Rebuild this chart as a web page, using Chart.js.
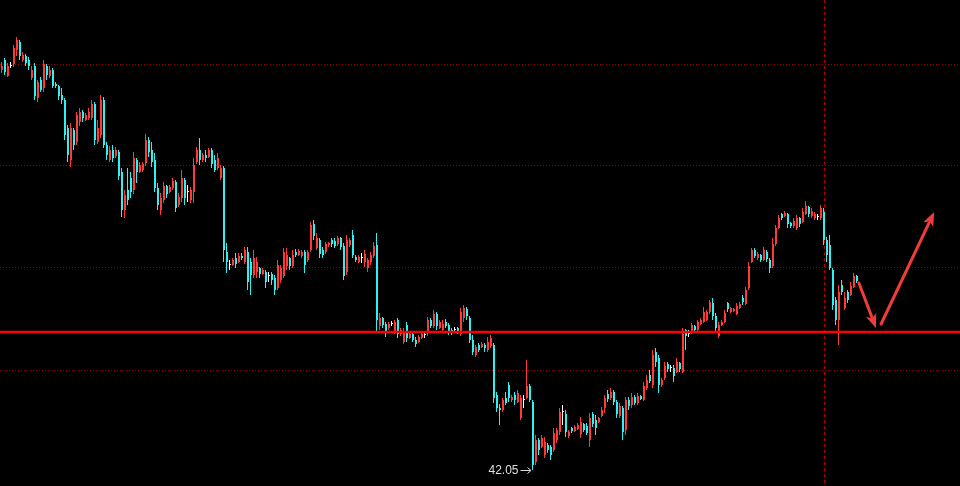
<!DOCTYPE html>
<html><head><meta charset="utf-8">
<script src="https://cdn.jsdelivr.net/npm/chart.js@4/dist/chart.umd.min.js"></script>
<style>html,body{margin:0;padding:0;background:#000;overflow:hidden}canvas{display:block}</style>
</head><body>
<canvas id="c" width="960" height="486"></canvas>
<script>
// ---- data (prices) ----
const open = [
46.05,46.15,45.99,46.09,46.11,46.25,46.33,46.15,46.19,46.15,
45.97,46.09,45.77,45.95,45.87,46.09,45.99,46.05,45.91,45.89,
45.80,45.75,45.47,45.15,45.45,45.33,45.53,45.63,45.55,45.57,
45.57,45.71,45.33,45.40,45.75,45.30,45.15,45.25,45.19,45.23,
45.03,44.65,44.85,44.97,44.85,45.15,45.03,45.05,45.12,45.35,
45.25,45.15,44.87,44.65,44.75,44.89,44.83,44.87,44.93,44.70,
44.77,44.95,44.83,44.75,44.83,45.13,45.25,45.15,45.20,45.18,
45.25,45.15,45.07,44.97,45.07,44.23,44.10,44.10,44.17,44.13,
44.19,44.13,44.23,44.13,44.00,44.03,44.07,44.01,44.03,43.99,
44.01,43.97,43.87,43.95,43.99,44.09,44.17,44.09,44.23,44.20,
44.19,44.23,44.15,44.25,44.51,44.27,44.35,44.25,44.23,44.30,
44.35,44.34,44.31,44.37,44.29,44.03,44.30,44.40,44.18,44.13,
44.17,44.13,44.07,44.13,44.19,44.30,43.49,43.57,43.51,43.47,
43.51,43.43,43.55,43.41,43.33,43.50,43.37,43.41,43.35,43.33,
43.37,43.40,43.43,43.55,43.49,43.61,43.47,43.45,43.53,43.50,
43.45,43.45,43.47,43.41,43.57,43.66,43.57,43.35,43.20,43.30,
43.28,43.30,43.25,43.29,43.30,42.80,42.67,42.65,42.77,42.90,
42.75,42.80,42.73,42.57,42.75,42.77,42.89,42.73,42.13,42.35,
42.28,42.20,42.30,42.28,42.25,42.35,42.43,42.63,42.61,42.39,
42.47,42.44,42.46,42.41,42.51,42.49,42.35,42.61,42.55,42.53,
42.59,42.67,42.81,42.77,42.83,42.73,42.59,42.67,42.45,42.75,
42.70,42.78,42.72,42.79,42.75,42.87,43.00,42.90,43.23,43.17,
42.90,42.97,43.11,43.07,43.07,43.03,43.12,43.03,43.45,43.41,
43.42,43.49,43.45,43.51,43.53,43.55,43.63,43.72,43.59,43.39,
43.50,43.53,43.72,43.63,43.64,43.61,43.67,43.77,43.71,43.87,
44.13,44.25,44.17,44.20,44.15,44.23,44.15,44.09,44.31,44.47,
44.61,44.59,44.61,44.52,44.49,44.47,44.57,44.53,44.61,44.68,
44.59,44.57,44.58,44.57,44.63,44.35,44.30,44.05,43.75,43.55,
43.90,43.67,43.83,43.80,43.88,43.99];
const high = [
46.13,46.17,46.12,46.13,46.30,46.38,46.35,46.23,46.21,46.18,
46.09,46.12,45.95,45.98,46.15,46.11,46.09,46.07,45.93,45.90,
45.87,45.77,45.50,45.52,45.47,45.63,45.67,45.65,45.62,45.67,
45.75,45.73,45.55,45.80,45.78,45.33,45.29,45.30,45.28,45.25,
45.07,44.85,45.07,45.03,45.23,45.17,45.13,45.13,45.41,45.38,
45.33,45.22,44.92,44.82,44.93,44.90,44.90,44.97,44.95,44.82,
45.05,44.97,44.90,44.88,45.17,45.28,45.37,45.22,45.25,45.27,
45.27,45.20,45.22,45.10,45.09,44.32,44.15,44.17,44.22,44.22,
44.22,44.28,44.28,44.17,44.25,44.18,44.08,44.07,44.05,44.03,
44.03,44.00,44.15,44.10,44.27,44.27,44.18,44.25,44.26,44.26,
44.25,44.25,44.25,44.53,44.55,44.42,44.37,44.28,44.33,44.33,
44.37,44.37,44.39,44.38,44.32,44.40,44.37,44.45,44.20,44.20,
44.22,44.25,44.17,44.23,44.33,44.42,43.62,43.58,43.53,43.53,
43.54,43.55,43.57,43.47,43.47,43.53,43.43,43.42,43.38,43.40,
43.42,43.42,43.58,43.57,43.65,43.63,43.55,43.55,43.56,43.52,
43.47,43.48,43.48,43.67,43.70,43.68,43.59,43.40,43.30,43.32,
43.33,43.32,43.38,43.40,43.32,42.83,42.71,42.77,42.83,42.93,
42.80,42.83,42.85,42.80,42.80,43.15,42.91,42.75,42.40,42.37,
42.40,42.38,42.32,42.30,42.47,42.47,42.67,42.70,42.65,42.45,
42.48,42.50,42.52,42.58,42.52,42.52,42.62,42.63,42.60,42.58,
42.68,42.80,42.85,42.87,42.85,42.75,42.72,42.69,42.78,42.78,
42.82,42.80,42.82,42.80,42.93,43.00,43.05,43.25,43.27,43.20,
42.97,43.13,43.13,43.10,43.10,43.17,43.13,43.47,43.46,43.45,
43.52,43.50,43.55,43.57,43.68,43.65,43.75,43.77,43.62,43.53,
43.55,43.65,43.73,43.68,43.67,43.72,43.73,43.80,43.88,44.13,
44.27,44.27,44.23,44.21,44.28,44.25,44.17,44.37,44.50,44.60,
44.62,44.64,44.62,44.53,44.57,44.60,44.58,44.67,44.74,44.69,
44.67,44.63,44.61,44.70,44.67,44.38,44.40,44.07,43.78,43.90,
43.95,43.83,43.85,43.93,44.02,44.00];
const low = [
46.02,46.00,45.98,46.07,46.08,46.19,46.15,46.13,46.09,46.05,
45.95,45.75,45.73,45.83,45.83,45.95,45.97,45.87,45.87,45.75,
45.71,45.35,45.13,45.08,45.25,45.30,45.49,45.53,45.54,45.55,
45.55,45.30,45.31,45.37,45.27,45.15,45.13,45.13,45.17,44.95,
44.58,44.57,44.70,44.77,44.81,44.92,45.02,45.03,45.09,45.18,
45.08,44.83,44.65,44.60,44.72,44.77,44.82,44.85,44.63,44.68,
44.73,44.70,44.73,44.72,44.72,45.11,45.10,45.13,45.13,45.17,
45.07,45.03,45.05,44.95,44.13,44.02,44.05,44.09,44.07,44.12,
44.15,44.11,43.85,43.80,43.97,43.97,43.97,44.00,43.87,43.93,
43.90,43.80,43.85,43.92,43.97,44.05,44.05,44.07,44.18,44.19,
44.17,44.02,44.13,44.23,44.35,44.25,44.17,44.17,44.21,44.28,
44.28,44.27,44.29,44.25,43.95,44.00,44.28,44.17,44.13,44.12,
44.12,44.08,44.03,44.10,44.17,43.42,43.45,43.47,43.38,43.45,
43.49,43.41,43.37,43.39,43.31,43.33,43.36,43.33,43.28,43.32,
43.36,43.37,43.39,43.47,43.47,43.45,43.46,43.44,43.47,43.40,
43.40,43.42,43.41,43.39,43.53,43.55,43.32,43.20,43.18,43.23,
43.27,43.23,43.23,43.27,42.72,42.63,42.50,42.63,42.70,42.73,
42.73,42.70,42.72,42.55,42.67,42.76,42.73,42.05,42.10,42.20,
42.27,42.17,42.22,42.15,42.23,42.32,42.40,42.50,42.38,42.37,
42.42,42.43,42.45,42.37,42.43,42.40,42.28,42.48,42.40,42.52,
42.58,42.62,42.73,42.75,42.70,42.57,42.57,42.35,42.40,42.65,
42.67,42.70,42.70,42.75,42.74,42.85,42.92,42.87,43.08,42.82,
42.88,42.95,43.03,43.03,42.93,43.02,43.03,43.02,43.25,43.38,
43.41,43.42,43.44,43.50,43.52,43.54,43.61,43.55,43.42,43.37,
43.49,43.52,43.63,43.62,43.63,43.60,43.66,43.70,43.70,43.85,
44.12,44.17,44.15,44.13,44.14,44.13,44.02,44.07,44.29,44.46,
44.55,44.58,44.47,44.47,44.47,44.45,44.48,44.52,44.60,44.58,
44.57,44.55,44.55,44.55,44.30,44.13,44.05,43.65,43.50,43.30,
43.80,43.65,43.72,43.79,43.87,43.92];
const close = [
46.09,46.03,46.09,46.09,46.27,46.35,46.19,46.20,46.12,46.09,
46.05,45.79,45.93,45.85,46.11,46.00,46.05,45.89,45.89,45.79,
45.75,45.40,45.20,45.47,45.30,45.60,45.63,45.57,45.60,45.63,
45.71,45.35,45.47,45.75,45.30,45.20,45.25,45.17,45.25,44.99,
44.65,44.80,44.75,44.83,45.17,45.03,45.10,45.11,45.35,45.23,
45.13,44.87,44.70,44.77,44.89,44.81,44.88,44.94,44.67,44.78,
44.97,44.77,44.83,44.85,45.10,45.25,45.15,45.20,45.17,45.25,
45.11,45.05,45.17,45.07,44.25,44.13,44.10,44.15,44.11,44.19,
44.17,44.25,43.93,44.00,44.17,44.13,44.01,44.05,43.93,43.99,
43.95,43.85,44.10,44.07,44.23,44.20,44.09,44.20,44.20,44.24,
44.23,44.10,44.23,44.50,44.39,44.37,44.21,44.20,44.31,44.32,
44.31,44.29,44.37,44.28,43.99,44.35,44.35,44.20,44.15,44.18,
44.17,44.21,44.15,44.20,44.29,43.55,43.57,43.50,43.43,43.51,
43.51,43.53,43.41,43.45,43.43,43.37,43.41,43.35,43.31,43.38,
43.41,43.40,43.55,43.49,43.61,43.49,43.53,43.51,43.49,43.43,
43.42,43.45,43.43,43.63,43.67,43.59,43.35,43.23,43.28,43.25,
43.31,43.27,43.33,43.37,42.77,42.67,42.65,42.75,42.72,42.77,
42.78,42.75,42.82,42.77,42.75,42.89,42.75,42.10,42.35,42.25,
42.37,42.33,42.25,42.20,42.42,42.45,42.63,42.63,42.43,42.43,
42.44,42.48,42.50,42.53,42.45,42.42,42.57,42.51,42.47,42.57,
42.65,42.77,42.76,42.83,42.73,42.61,42.69,42.43,42.75,42.69,
42.78,42.72,42.79,42.76,42.89,42.95,42.94,43.20,43.13,42.90,
42.95,43.09,43.06,43.07,42.99,43.13,43.06,43.41,43.39,43.41,
43.50,43.45,43.53,43.55,43.63,43.63,43.73,43.59,43.47,43.50,
43.53,43.62,43.66,43.67,43.66,43.69,43.71,43.73,43.85,44.09,
44.25,44.19,44.21,44.15,44.25,44.16,44.07,44.31,44.47,44.57,
44.57,44.62,44.51,44.49,44.54,44.57,44.51,44.63,44.69,44.61,
44.64,44.61,44.58,44.67,44.35,44.20,44.07,43.70,43.55,43.83,
43.83,43.77,43.75,43.89,43.99,43.94];

const gridLevels = [43.05, 44.07, 45.09, 46.11];   // dotted horizontal guide levels
const supportLevel = 43.43;                          // solid red horizontal line
const markerIndex = 274;                             // dashed vertical marker (bar index)
const arrowFrom = [[285.8, 43.92], [293.2, 43.51]];  // [bar index, price]
const arrowTo   = [[291.5, 43.47], [310.9, 44.63]];
const slotCount = 320;                               // bar slots across the width (incl. empty future)
const priceMin = 41.89, priceMax = 46.75;

// ---- build ----
const labels = Array.from({length: slotCount}, (_, i) => String(i));
const UP = '#ff3a3a', DOWN = '#2ef2f2', FLAT = '#ffffff';
const colors = open.map((o, i) => close[i] > o ? UP : (close[i] < o ? DOWN : FLAT));
const bodyData = labels.map((_, i) => i < open.length ? [open[i], close[i]] : null);
const wickData = labels.map((_, i) => i < open.length ? [low[i], high[i]] : null);

function drawArrow(ctx, x1, y1, x2, y2, color) {
  const a = Math.atan2(y2 - y1, x2 - x1);
  const hl = 14, hw = 11;
  const bx = x2 - hl * Math.cos(a), by = y2 - hl * Math.sin(a);
  ctx.save();
  ctx.strokeStyle = color; ctx.fillStyle = color;
  ctx.lineWidth = 3; ctx.lineCap = 'round';
  ctx.beginPath(); ctx.moveTo(x1, y1); ctx.lineTo(bx + 2 * Math.cos(a), by + 2 * Math.sin(a)); ctx.stroke();
  ctx.beginPath();
  ctx.moveTo(x2, y2);
  ctx.lineTo(bx + (hw / 2) * Math.sin(a), by - (hw / 2) * Math.cos(a));
  ctx.lineTo(bx + 0.25 * hl * Math.cos(a), by + 0.25 * hl * Math.sin(a));
  ctx.lineTo(bx - (hw / 2) * Math.sin(a), by + (hw / 2) * Math.cos(a));
  ctx.closePath(); ctx.fill();
  ctx.restore();
}

const overlay = {
  id: 'overlay',
  beforeDatasetDraw(chart, args) {
    if (args.index === 0) { chart.ctx.save(); chart.ctx.translate(0.5, 0); }
  },
  afterDatasetDraw(chart, args) {
    if (args.index === 0) chart.ctx.restore();
  },
  beforeDatasetsDraw(chart) {
    const {ctx, chartArea, scales: {x}} = chart;
    const px = Math.round(x.getPixelForValue(markerIndex)) + 0.5;
    ctx.save();
    ctx.strokeStyle = '#b40000'; ctx.lineWidth = 1; ctx.setLineDash([3, 3]);
    ctx.beginPath(); ctx.moveTo(px, chartArea.top); ctx.lineTo(px, chartArea.bottom); ctx.stroke();
    ctx.restore();
  },
  afterDatasetsDraw(chart) {
    const {ctx, chartArea, scales: {x, y}} = chart;
    // support line
    const sy = y.getPixelForValue(supportLevel);
    ctx.save();
    ctx.strokeStyle = '#ff0000'; ctx.lineWidth = 2.4;
    ctx.beginPath(); ctx.moveTo(chartArea.left, sy); ctx.lineTo(chartArea.right, sy); ctx.stroke();
    ctx.restore();
    // arrows
    arrowFrom.forEach((f, k) => {
      const t = arrowTo[k];
      drawArrow(ctx, x.getPixelForValue(f[0]), y.getPixelForValue(f[1]),
                     x.getPixelForValue(t[0]), y.getPixelForValue(t[1]), '#f23c3c');
    });
    // lowest-price label
    const lo = Math.min(...low);
    const idx = low.indexOf(lo);
    const lx = x.getPixelForValue(idx), ly = y.getPixelForValue(lo);
    ctx.save();
    ctx.fillStyle = '#dedede';
    ctx.font = '12px "Liberation Sans", Arial, "DejaVu Sans", sans-serif';
    ctx.textAlign = 'right'; ctx.textBaseline = 'middle';
    ctx.fillText(lo.toFixed(2), lx - 14, ly + 1);
    ctx.strokeStyle = '#dedede'; ctx.lineWidth = 1;
    ctx.beginPath(); ctx.moveTo(lx - 12, ly + 0.5); ctx.lineTo(lx - 2, ly + 0.5); ctx.stroke();
    ctx.beginPath(); ctx.moveTo(lx - 5, ly - 2.5); ctx.lineTo(lx - 1.5, ly + 0.5); ctx.lineTo(lx - 5, ly + 3.5); ctx.stroke();
    ctx.restore();
  }
};

new Chart(document.getElementById('c'), {
  type: 'bar',
  data: {
    labels,
    datasets: [
      { label: 'body', data: bodyData, backgroundColor: colors, barThickness: 2, minBarLength: 1,
        borderWidth: 0, inflateAmount: 0, grouped: false, order: 0 },
      { label: 'wick', data: wickData, backgroundColor: colors, barThickness: 1,
        borderWidth: 0, inflateAmount: 0, grouped: false, order: 1 }
    ]
  },
  options: {
    responsive: false,
    animation: false,
    devicePixelRatio: 1,
    layout: { padding: 0 },
    plugins: { legend: { display: false }, tooltip: { enabled: false } },
    scales: {
      x: { type: 'category', display: false, offset: true },
      y: {
        type: 'linear', min: priceMin, max: priceMax,
        afterBuildTicks: (s) => { s.ticks = gridLevels.map(v => ({ value: v })); },
        ticks: { display: false },
        grid: { color: '#9a0000', lineWidth: 1, drawTicks: false },
        border: { display: false, dash: [1, 2] }
      }
    }
  },
  plugins: [overlay]
});
</script>
</body></html>
